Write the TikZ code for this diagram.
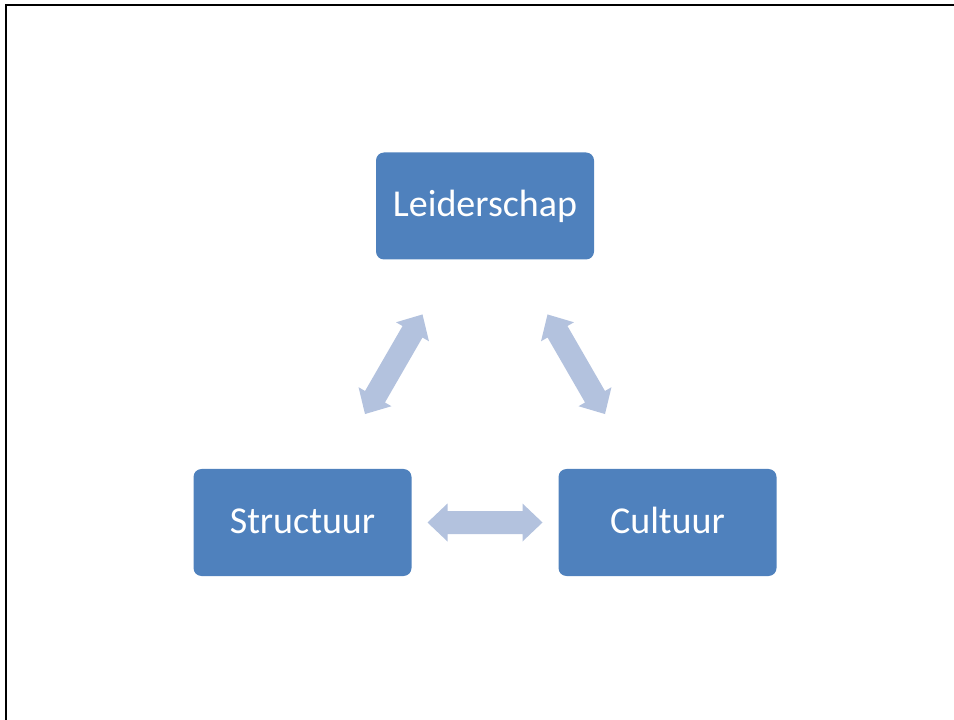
\documentclass[tikz,border=0pt]{standalone}
\usepackage{fontspec}
\setmainfont{Carlito}
\usetikzlibrary{calc}
\definecolor{boxblue}{HTML}{4F81BD}
\definecolor{arrowblue}{HTML}{B3C2DE}
\tikzset{
  box/.style={draw=none, fill=boxblue, rounded corners=6pt, minimum width=163.5pt,
    minimum height=80.25pt, inner sep=0pt, text height=20pt, text depth=4.1pt,
    text=white, font=\fontsize{28.5pt}{34pt}\selectfont},
  pics/dblarrow/.style={code={
    \fill[arrowblue] (-57.5,0) -- (-37.5,19) -- (-37.5,11.5) -- (37.5,11.5) -- (37.5,19)
      -- (57.5,0) -- (37.5,-19) -- (37.5,-11.5) -- (-37.5,-11.5) -- (-37.5,-19) -- cycle;}}
}
\begin{document}
\begin{tikzpicture}[x=0.75pt,y=0.75pt]
\useasboundingbox (0,0) rectangle (954,-720);
\draw[line width=1.5pt, black] (5.5,-720) -- (5.5,-5.3) -- (954,-5.3);
\node[box] (L) at (485,-206) {Leiderschap};
\node[box] (S) at (302.5,-522.5) {Structuur};
\node[box] (C) at (667.5,-522.5) {Cultuur};
\pic[rotate=60] at ($(S)!0.5!(L)$) {dblarrow};
\pic[rotate=-60] at ($(C)!0.5!(L)$) {dblarrow};
\pic at ($(S)!0.5!(C)$) {dblarrow};
\end{tikzpicture}
\end{document}
